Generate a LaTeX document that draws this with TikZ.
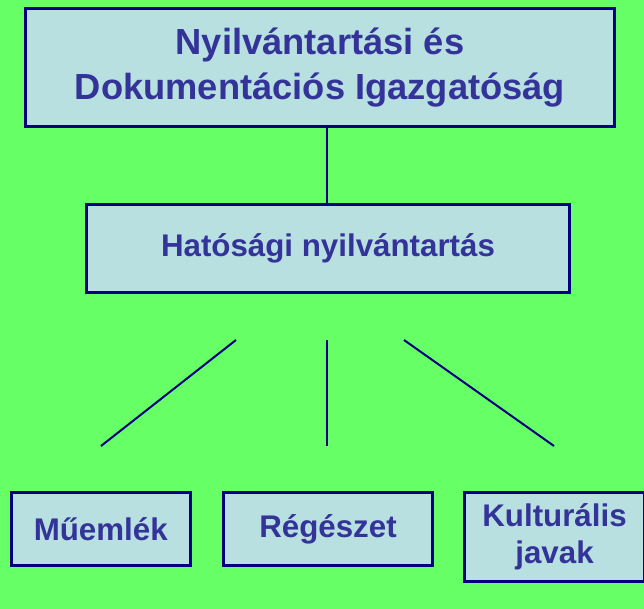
\documentclass[tikz,border=0pt]{standalone}
\usepackage{fontspec}
\setmainfont{Liberation Sans}
\definecolor{bg}{HTML}{66FF66}
\definecolor{boxfill}{HTML}{B9E0E0}
\definecolor{boxline}{HTML}{000080}
\definecolor{txt}{HTML}{333399}
\tikzset{
  orgbox/.style={draw=boxline, line width=3pt, fill=boxfill, text=txt,
    align=center, inner sep=0pt, font=\bfseries},
  bigtext/.style={font=\bfseries\fontsize{36.3}{45}\selectfont},
  smalltext/.style={font=\bfseries\fontsize{31.3}{36.7}\selectfont},
  link/.style={draw=boxline, line width=2pt}
}
\begin{document}
\begin{tikzpicture}[x=1pt,y=-1pt]
\fill[bg] (0,0) rectangle (644,609);
\useasboundingbox (0,0) rectangle (644,609);
\node[orgbox, bigtext, minimum width=589pt, minimum height=118pt] (top) at (320,67.5)
  {Nyilvántartási és\\Dokumentációs Igazgatóság};
\node[orgbox, smalltext, minimum width=483pt, minimum height=88pt] (mid) at (328,248.5)
  {Hatósági nyilvántartás};
\node[orgbox, smalltext, minimum width=179.5pt, minimum height=73pt] (mu) at (100.75,529)
  {Műemlék};
\node[orgbox, smalltext, minimum width=209pt, minimum height=73pt] (reg) at (328,529)
  {Régészet};
\node[orgbox, smalltext, minimum width=180pt, minimum height=89pt] (kul) at (554.5,537)
  {Kulturális\\javak};
\draw[link] (top.south -| 327,0) -- (mid.north -| 327,0);
\coordinate (l1a) at (236,340); \coordinate (l1b) at (101,446);
\coordinate (l2a) at (327,340); \coordinate (l2b) at (327,446);
\coordinate (l3a) at (404,340); \coordinate (l3b) at (554,446);
\draw[link] (l1a) -- (l1b);
\draw[link] (l2a) -- (l2b);
\draw[link] (l3a) -- (l3b);
\end{tikzpicture}
\end{document}
